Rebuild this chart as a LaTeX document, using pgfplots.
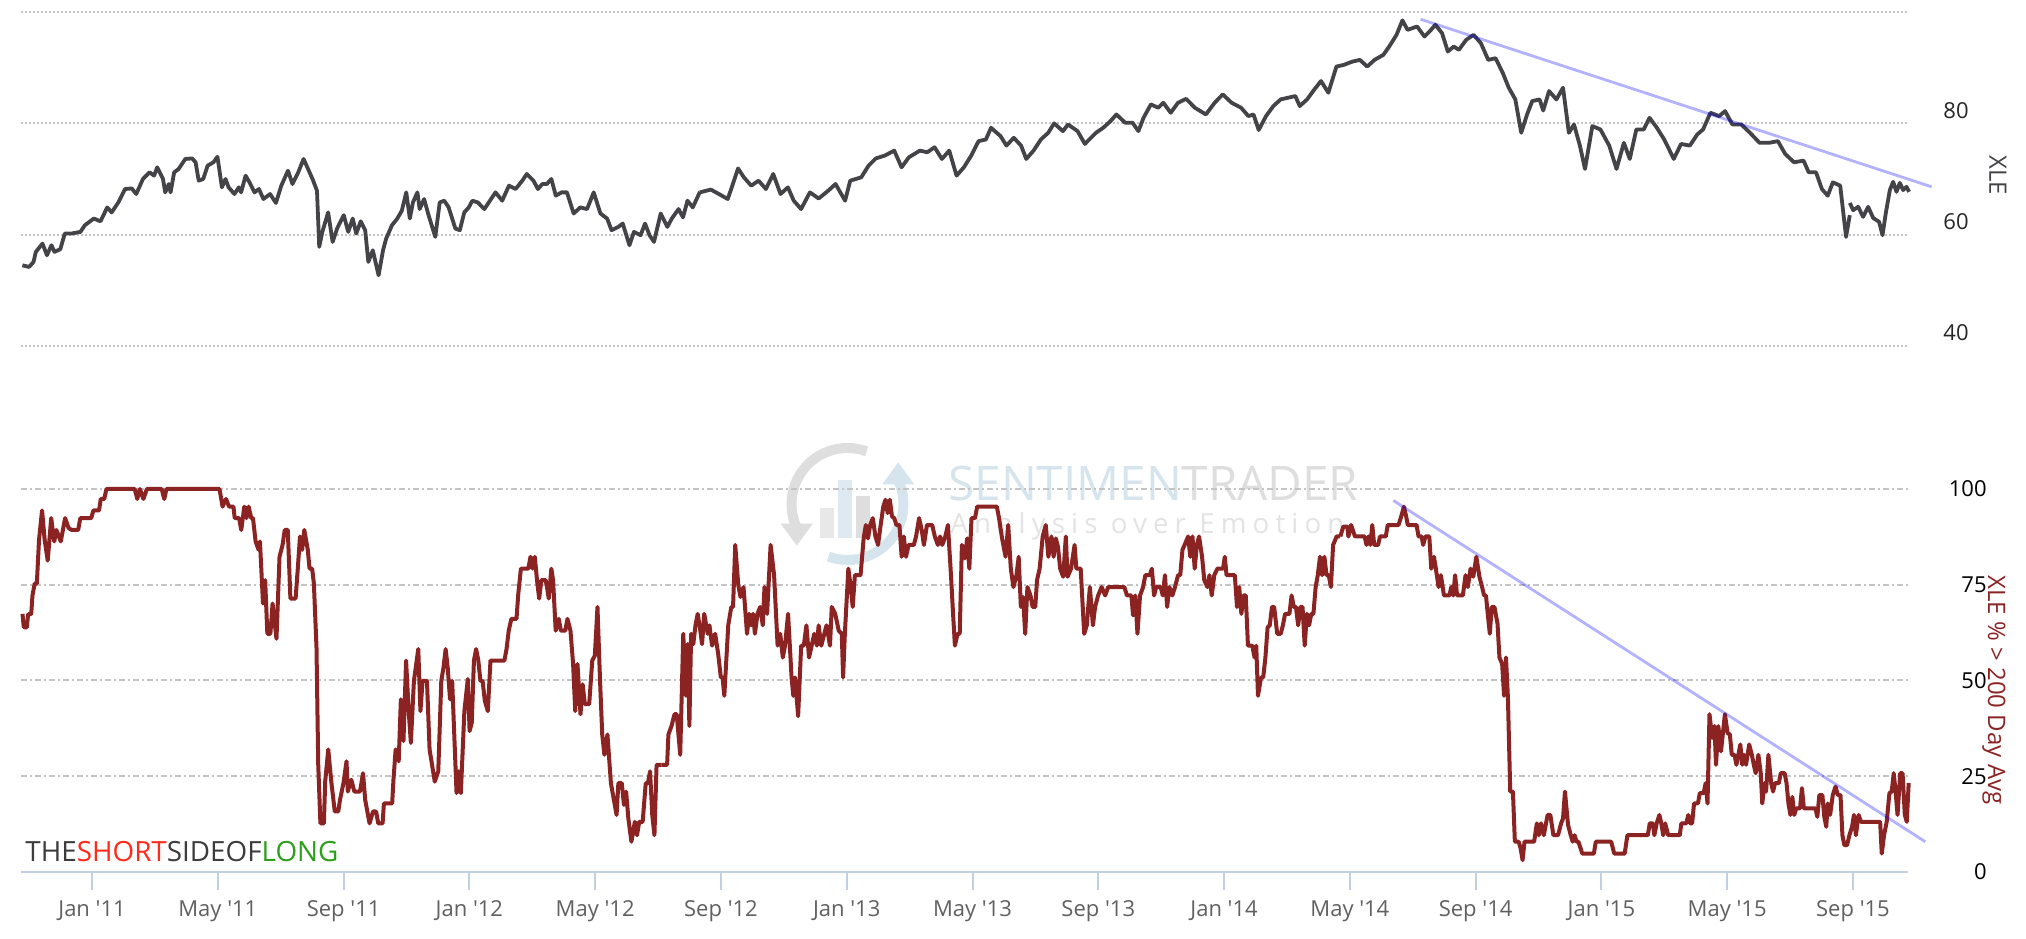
\documentclass[border=0pt]{standalone}
\usepackage{fontspec}
\setmainfont{Open Sans}
\usepackage{pgfplots}
\usepackage{pgfplotstable}
\pgfplotsset{compat=1.18}
\usepackage{graphicx}

\definecolor{xle}{HTML}{434348}
\definecolor{pct}{HTML}{8B2323}
\definecolor{gridc}{HTML}{C4C4C4}
\definecolor{axc}{HTML}{C0D0E0}
\definecolor{tickc}{HTML}{606060}
\definecolor{trend}{HTML}{0000FF}
\definecolor{wmgray}{HTML}{DEDEDE}
\definecolor{wmblue}{HTML}{D6E4EE}
\definecolor{logored}{HTML}{FF2A1A}
\definecolor{logogreen}{HTML}{2CA01A}
\definecolor{logogray}{HTML}{3C3C3C}

% XLE, first part (x: read position, converted to months since Jan 2011)
\pgfplotstableread{
px v
50 54.5
65 54.2
75 55.1
80 56.9
95 58.4
105 56.3
115 58.1
122 56.9
135 57.4
145 60.2
160 60.2
180 60.5
190 61.7
210 62.9
225 62.4
240 64.9
250 64.0
265 65.8
280 68.2
295 68.3
305 67.3
320 70.0
335 71.2
345 70.6
352 72.1
365 70.0
370 67.6
378 69.1
382 67.6
390 71.2
400 71.8
415 73.6
430 73.7
438 73.0
445 69.7
455 70.0
465 72.4
478 73.0
487 74.0
497 68.5
505 70.0
512 68.5
525 67.3
535 68.5
540 67.6
550 70.6
558 69.5
570 67.6
580 68.2
590 66.4
605 67.3
618 65.7
630 68.8
645 71.5
655 69.1
668 71.2
680 73.6
690 71.8
700 70.0
710 67.9
715 57.8
722 60.5
735 64.0
745 58.7
755 61.1
770 63.5
780 60.5
790 62.9
798 60.2
808 62.4
818 60.8
825 55.1
835 57.2
848 52.7
858 57.2
865 59.3
878 61.7
890 62.9
900 64.3
910 67.6
918 62.9
925 65.8
935 67.6
940 64.6
950 66.4
960 63.5
975 59.6
985 65.8
995 66.1
1005 64.9
1020 61.1
1030 60.8
1040 64.0
1050 64.9
1058 66.1
1070 65.8
1085 64.6
1100 66.4
1110 67.6
1125 66.1
1140 68.8
1155 68.2
1170 69.7
1180 70.9
1195 69.7
1205 68.2
1215 69.1
1225 69.1
1235 70.0
1245 67.0
1258 67.6
1270 67.6
1285 63.8
1300 64.9
1315 64.6
1330 67.6
1345 63.8
1360 62.9
1370 60.8
1385 61.4
1395 62.0
1410 58.1
1420 60.5
1435 59.9
1445 62.0
1455 59.9
1465 58.7
1480 63.8
1495 61.4
1505 62.9
1520 64.6
1530 63.1
1540 66.1
1552 64.9
1568 67.7
}\xleA

\pgfplotstableread{
px v
0 67.6
15 68.1
30 67.0
38 66.4
45 69.1
52 71.9
60 70.3
70 68.8
80 69.7
90 68.2
100 70.9
110 67.3
120 68.5
128 66.1
138 64.6
150 67.6
162 66.5
175 67.9
185 69.1
198 66.1
205 69.7
220 70.3
230 72.4
240 73.7
252 74.2
265 75.1
275 72.1
285 73.9
300 75.1
310 74.8
320 75.7
330 73.6
340 75.1
350 70.6
360 72.1
370 74.2
380 76.8
390 77.1
397 79.2
410 77.7
418 76.0
428 77.4
438 76.0
445 73.6
455 75.1
465 77.1
475 78.3
483 80.0
495 78.6
502 79.8
515 78.6
525 76.3
540 78.3
550 79.2
560 80.4
568 81.6
580 80.1
590 80.1
598 78.6
605 81.0
615 83.4
625 82.8
632 83.7
642 81.9
652 83.7
663 84.4
675 82.8
690 81.6
702 83.7
713 85.2
725 83.7
738 82.8
748 81.3
755 81.6
762 78.8
772 81.3
782 83.1
792 84.3
802 84.6
812 84.9
818 83.1
828 84.3
838 86.1
847 87.6
857 85.5
868 90.2
878 90.5
890 91.1
900 91.4
910 90.2
920 91.4
932 92.3
940 93.8
950 95.9
958 98.5
965 96.8
978 97.4
988 95.6
995 96.5
1003 97.7
1012 96.2
1020 92.9
1028 93.8
1035 93.2
1045 95.0
1055 95.9
1065 94.4
1075 91.4
1085 91.7
1095 89.0
1103 86.4
1112 84.3
1120 78.3
1128 81.6
1135 84.0
1145 84.3
1150 82.3
1158 85.8
1168 84.3
1177 86.4
1185 78.3
1192 79.8
1200 76.0
1207 71.8
1217 79.5
1228 78.9
1240 76.0
1250 71.8
1260 76.5
1268 73.6
1277 78.9
1287 78.9
1295 81.0
1305 79.2
1315 77.1
1328 73.6
1338 76.3
1350 76.0
1360 78.0
1368 78.9
1378 81.9
1390 81.3
1398 82.2
1408 79.8
1420 79.8
1432 78.3
1445 76.5
1458 76.5
1470 76.8
1480 74.5
1492 73.0
1505 73.3
1512 71.2
1522 71.2
1530 68.2
1538 67.0
1545 69.4
1555 68.8
1563 59.6
1568 63.5
}\xleB

\pgfplotstableread{
px v
0 65.7
10 64.4
25 65.0
40 63.2
55 65.0
70 63.0
88 62.3
98 59.9
108 63.9
120 68.0
130 69.5
140 67.7
150 69.3
160 68.0
170 68.6
178 67.7
}\xleC

% XLE % above 200-day average
\pgfplotstableread{
px v
52 67.4
55 63.9
62 63.9
65 67.3
72 67.3
75 72.2
80 75.3
85 75.3
90 86.7
97 94.4
103 86.7
110 81.3
118 92.4
125 86.3
130 89.3
140 86.3
150 92.4
158 89.8
165 89.3
180 89.3
185 92.4
210 92.4
215 94.4
228 94.4
232 97.4
240 97.4
245 100
310 100
316 97.4
322 100
330 97.4
338 100
372 100
378 97.4
383 100
505 100
512 95.4
520 97.4
527 95.4
537 95.4
540 92.4
550 92.4
555 89.3
562 95.4
567 92.4
572 95.4
578 92.4
582 92.4
588 86.3
595 84.1
598 86.3
605 70.1
610 76.2
615 62.2
622 62.2
627 70.1
636 60.9
643 82.3
650 85.4
655 89.3
662 89.3
668 71.4
680 71.4
685 79.2
690 87.6
695 84.1
700 89.3
708 84.1
712 79.2
718 79.2
722 75.3
728 58.7
732 28.0
737 12.7
745 12.7
748 23.6
755 32.0
762 23.6
770 15.8
778 15.8
782 18.8
790 23.2
797 28.9
800 21.0
808 24.1
815 21.0
828 21.0
835 25.8
840 18.8
850 12.7
858 15.8
865 15.8
870 12.7
880 12.7
883 17.9
902 17.9
905 24.1
910 32.0
917 28.9
922 45.1
928 34.2
934 55.2
940 42.0
945 33.7
952 49.9
962 58.2
967 42.0
972 49.9
982 49.9
988 32.0
1000 23.6
1008 26.3
1015 49.9
1020 53.4
1025 58.2
1030 53.0
1035 45.1
1040 49.9
1050 20.6
1055 26.3
1060 20.6
1068 42.0
1076 50.4
1080 36.8
1085 39.0
1090 55.2
1095 58.2
1100 55.2
1105 49.9
1110 49.9
1115 44.7
1122 42.0
1128 55.2
1160 55.2
1165 58.2
1170 63.0
1176 66.1
1188 66.1
1192 72.7
1198 79.2
1215 79.2
1220 82.3
1225 79.2
1230 82.3
1235 76.2
1240 71.4
1245 76.2
1255 76.2
1258 74.4
1262 71.4
1268 79.2
1272 76.2
1278 63.0
1285 66.1
1290 63.0
1300 63.0
1305 66.1
1312 63.0
1318 54.3
1323 42.0
1328 54.3
1335 41.2
1340 49.0
1345 43.8
1355 43.8
1362 55.2
1368 56.5
1374 69.2
1380 49.9
1385 35.9
1390 30.6
1397 35.9
1405 23.2
1418 14.9
1422 23.2
1430 23.2
1435 17.5
1440 21.0
1445 14.0
1452 7.9
1460 13.1
1465 9.6
1470 13.1
1478 13.1
1485 23.2
1490 23.2
1495 26.3
1500 14.9
1505 9.6
1510 28.0
1521 28.0
}\pctA

\pgfplotstableread{
px v
12 28.0
25 28.0
28 35.9
35 38.1
42 41.2
47 41.2
55 30.6
62 62.2
68 46.0
72 59.5
76 38.1
80 62.2
85 59.5
90 64.4
95 67.4
100 63.9
105 59.5
110 67.4
118 62.2
122 64.4
128 59.1
135 62.2
142 56.9
148 50.8
152 50.8
156 46.0
165 64.4
172 69.2
176 69.2
181 85.4
188 74.9
193 71.8
200 74.4
208 62.2
213 67.4
218 64.4
222 67.4
226 62.2
232 67.4
238 69.2
244 64.4
248 74.4
254 67.4
262 85.4
270 77.5
278 59.1
284 62.2
290 56.0
295 59.1
302 67.4
310 50.8
314 46.0
318 50.8
325 40.7
332 59.1
338 59.1
344 64.4
350 56.0
356 59.1
362 62.2
368 59.1
372 64.4
378 59.1
385 62.2
390 64.4
398 59.1
402 69.2
410 67.4
418 63.0
425 62.2
428 50.8
432 62.2
440 79.2
445 74.9
450 69.2
455 77.5
468 77.5
475 87.1
480 90.6
485 87.1
490 90.6
496 92.4
502 87.6
508 85.4
514 90.6
520 95.4
525 97.2
530 93.7
535 97.2
540 92.8
545 92.4
550 90.6
557 90.6
562 82.3
567 87.6
572 82.3
578 85.4
590 85.4
595 87.6
602 92.4
608 89.3
613 85.4
620 90.6
632 90.6
638 87.6
645 85.4
650 87.6
655 85.4
662 87.6
668 90.6
675 77.5
680 67.0
684 59.1
690 62.2
695 62.2
700 85.4
707 81.9
712 87.1
717 79.2
722 92.4
730 92.4
735 95.4
780 95.4
785 92.4
792 87.1
800 82.3
806 90.6
812 79.2
818 74.4
825 77.5
830 82.3
835 69.2
840 71.8
845 62.2
850 74.4
857 72.2
862 69.2
868 69.2
872 76.2
878 79.2
885 87.6
892 90.6
898 82.3
905 87.6
910 82.3
915 87.1
920 84.9
925 79.2
932 77.1
938 87.6
942 77.1
950 79.2
958 85.4
962 79.2
972 79.2
980 62.2
986 64.4
993 74.4
1000 64.4
1005 69.2
1012 72.2
1020 74.4
1028 72.2
1035 74.4
1072 74.4
1078 72.2
1088 72.2
1092 67.0
1097 72.2
1102 62.2
1108 72.2
1115 74.4
1120 77.5
1130 77.5
1135 79.2
1140 72.2
1145 74.4
1155 74.4
1160 72.2
1165 77.5
1170 69.2
1175 74.4
1182 72.2
1188 74.4
1195 77.5
1200 77.5
1205 84.1
1210 85.4
1218 87.6
1223 82.3
1228 87.6
1233 79.2
1238 85.4
1243 87.6
1250 82.3
1255 76.2
1262 74.4
1267 77.5
1272 72.2
1278 77.5
1285 79.2
1298 79.2
1302 82.3
1306 77.5
1325 77.5
1330 69.2
1335 74.4
1340 67.4
1345 72.2
1350 72.2
1355 59.1
1365 59.1
1370 56.0
1374 59.1
1378 46.0
1385 50.8
1390 50.8
1395 56.0
1400 63.9
1405 64.4
1410 69.2
1415 69.2
1422 62.2
1430 62.2
1435 64.4
1440 67.4
1450 67.4
1455 72.2
1460 69.2
1465 69.2
1470 64.4
1475 69.2
1480 69.2
1485 59.1
1490 67.4
1495 64.4
1500 67.4
1505 67.4
1510 74.4
1515 77.5
1520 82.3
1525 77.5
1530 82.3
1535 77.5
1540 77.5
1545 74.4
1550 85.4
1558 87.6
1566 87.6
}\pctB

\pgfplotstableread{
px v
47 87.6
55 90.2
65 90.2
68 87.6
75 90.6
85 87.6
110 87.6
115 85.4
120 87.6
125 85.4
130 90.6
135 85.4
145 85.4
150 87.6
165 87.6
170 90.6
198 90.6
205 92.8
212 95.4
218 92.8
222 90.6
245 90.6
250 87.6
258 87.6
262 85.4
268 87.6
278 87.6
283 79.2
290 82.3
295 79.2
302 74.4
308 77.5
316 72.2
330 72.2
335 74.4
340 72.2
345 77.5
350 72.2
365 72.2
372 77.5
378 74.4
385 79.2
392 77.1
400 82.3
408 77.1
415 74.4
420 72.2
425 72.2
430 67.0
435 62.2
440 69.2
447 69.2
455 64.8
460 56.0
467 54.3
472 46.0
477 56.0
482 45.5
488 21.0
495 21.0
500 7.9
510 7.9
515 6.1
520 3.1
525 7.9
550 7.9
557 12.7
562 9.6
568 12.7
575 9.6
585 14.9
592 14.9
600 9.6
612 9.6
620 12.7
625 14.0
630 21.0
638 12.3
645 9.6
650 7.9
655 9.6
660 7.9
665 7.9
675 4.8
705 4.8
710 7.9
750 7.9
758 4.8
785 4.8
792 9.6
845 9.6
850 12.7
858 12.7
862 9.6
868 12.7
875 14.9
880 12.7
885 9.6
890 12.7
898 9.6
928 9.6
932 12.7
945 12.7
950 14.9
955 12.7
960 12.7
965 17.9
975 17.9
980 20.6
990 20.6
995 23.2
1000 17.9
1005 41.2
1012 35.0
1018 38.1
1022 28.0
1028 38.1
1035 31.5
1045 41.2
1052 36.3
1058 35.9
1063 30.6
1070 30.6
1075 28.0
1080 30.6
1085 33.3
1090 28.0
1095 30.6
1100 28.0
1108 33.3
1115 30.6
1120 28.0
1125 25.8
1132 30.6
1138 25.8
1142 17.9
1148 23.2
1152 21.0
1158 30.6
1165 23.2
1170 21.0
1175 23.2
1185 23.2
1190 25.8
1200 25.8
1205 23.2
1210 17.9
1215 14.9
1220 19.6
1225 14.9
1230 16.6
1240 16.6
1245 21.9
1250 16.6
1280 16.6
1285 14.4
1290 20.1
1298 20.1
1303 14.4
1308 11.8
1312 17.9
1318 14.9
1325 20.1
1332 22.3
1338 20.1
1345 20.1
1350 9.6
1355 7.0
1362 7.0
1368 9.6
1375 11.8
1380 14.9
1385 9.6
1392 14.9
1398 13.1
1405 13.1
1448 13.1
1452 4.8
1458 9.6
1465 13.1
1472 20.6
1478 21.0
1483 25.8
1488 21.0
1493 14.9
1500 25.8
1506 25.8
1512 14.9
1517 13.1
1522 23.2
}\pctC

\begin{document}
\begin{tikzpicture}
\useasboundingbox (0,0) rectangle (1013pt,469pt);

% watermark
\begin{scope}[shift={(423.75pt,217pt)}]
  \draw[line width=5pt, wmgray] (70:28pt) arc (70:205:28pt);
  \fill[wmgray] (205:28pt) ++(-8pt,2pt) -- ++(16pt,0) -- ++(-8pt,-11pt) -- cycle;
  \draw[line width=5pt, wmblue] (250:28pt) arc (250:385:28pt);
  \fill[wmblue] (385:28pt) ++(-8pt,-2pt) -- ++(16pt,0) -- ++(-8pt,11pt) -- cycle;
  \fill[wmgray!70] (-14pt,-17pt) rectangle (-7pt,-2pt);
  \fill[wmblue!80] (-5pt,-17pt) rectangle (2pt,12pt);
  \fill[wmgray] (4pt,-17pt) rectangle (11pt,4pt);
\end{scope}
\node[anchor=west, inner sep=0pt] at (474pt,227.5pt)
  {\resizebox{205pt}{!}{\textcolor{wmblue}{SENTIMEN}\textcolor{wmgray}{TRADER}}};
\node[anchor=west, inner sep=0pt] at (475pt,206pt)
  {\resizebox{197pt}{!}{\addfontfeature{LetterSpace=22}\textcolor{wmgray!85}{Analysis over Emotion}}};

% top panel
\begin{axis}[
  at={(10.5pt,296pt)}, anchor=south west, scale only axis,
  width=943.5pt, height=167pt,
  xmin=-2.26, xmax=57.75, ymin=40, ymax=100,
  clip=false,
  axis line style={draw=none},
  xtick=\empty,
  ytick={40,60,80,100}, yticklabels={40,60,80,{}},
  ymajorgrids,
  major grid style={gridc, line width=1pt, dash pattern=on 1pt off 1pt},
  ytick style={draw=none},
  yticklabel pos=right,
  yticklabel style={anchor=east, inner sep=0pt, xshift=30.5pt, yshift=6.5pt,
    font=\fontsize{11}{13}\selectfont, text=black!85},
  /pgf/number format/assume math mode=true,
]
\addplot[xle, line width=1.9pt, line join=round] table[x expr=\thisrow{px}/70.45-2.925, y=v] {\xleA};
\addplot[xle, line width=1.9pt, line join=round] table[x expr=\thisrow{px}/42.88+19.33, y=v] {\xleB};
\addplot[xle, line width=1.9pt, line join=round] table[x expr=\thisrow{px}/94.35+55.90, y=v] {\xleC};
\addplot[trend, opacity=0.3, line width=1.4pt] coordinates {(42.25,98.7) (58.5,68.6)};
\end{axis}

% bottom panel
\begin{axis}[
  at={(10.5pt,33pt)}, anchor=south west, scale only axis,
  width=943.5pt, height=191.5pt,
  xmin=-2.26, xmax=57.75, ymin=0, ymax=100,
  clip=false,
  axis line style={draw=none},
  xtick={0,4,...,56},
  xticklabels={Jan \textquotesingle11, May \textquotesingle11, Sep \textquotesingle11,
    Jan \textquotesingle12, May \textquotesingle12, Sep \textquotesingle12,
    Jan \textquotesingle13, May \textquotesingle13, Sep \textquotesingle13,
    Jan \textquotesingle14, May \textquotesingle14, Sep \textquotesingle14,
    Jan \textquotesingle15, May \textquotesingle15, Sep \textquotesingle15},
  xtick pos=bottom,
  tick align=outside,
  major tick length=9pt,
  xtick style={axc, line width=1pt},
  xticklabel style={anchor=north, inner sep=0pt, yshift=-5pt,
    font=\fontsize{11}{13}\selectfont, text=tickc},
  ytick={0,25,50,75,100},
  ymajorgrids,
  major grid style={gridc, line width=1pt, dash pattern=on 3pt off 1.5pt on 1pt off 1.5pt},
  ytick style={draw=none},
  yticklabel pos=right,
  yticklabel style={anchor=east, inner sep=0pt, xshift=30.5pt,
    font=\fontsize{11}{13}\selectfont, text=black},
  /pgf/number format/assume math mode=true,
]
\draw[axc, line width=1.3pt] (rel axis cs:0,0) -- (rel axis cs:1,0);
\addplot[pct, line width=2pt, line join=round] table[x expr=\thisrow{px}/72.3-2.932, y=v] {\pctA};
\addplot[pct, line width=2pt, line join=round] table[x expr=\thisrow{px}/72+17.94, y=v] {\pctB};
\addplot[pct, line width=2pt, line join=round] table[x expr=\thisrow{px}/81.6+39.12, y=v] {\pctC};
\addplot[trend, opacity=0.3, line width=1.4pt] coordinates {(41.38,97.0) (58.3,7.9)};
\end{axis}

% axis titles
\node[rotate=-90, text=xle, font=\fontsize{12}{14}\selectfont] at (999pt,381.5pt) {XLE};
\node[rotate=-90, text=pct, font=\fontsize{12}{14}\selectfont] at (997pt,124pt) {XLE \% > 200 Day Avg};

% logo
\node[anchor=west, inner sep=0pt] at (12.5pt,43pt)
  {\resizebox{156.5pt}{!}{\textcolor{logogray}{THE}\textcolor{logored}{SHORT}\textcolor{logogray}{SIDEOF}\textcolor{logogreen}{LONG}}};
\end{tikzpicture}
\end{document}
